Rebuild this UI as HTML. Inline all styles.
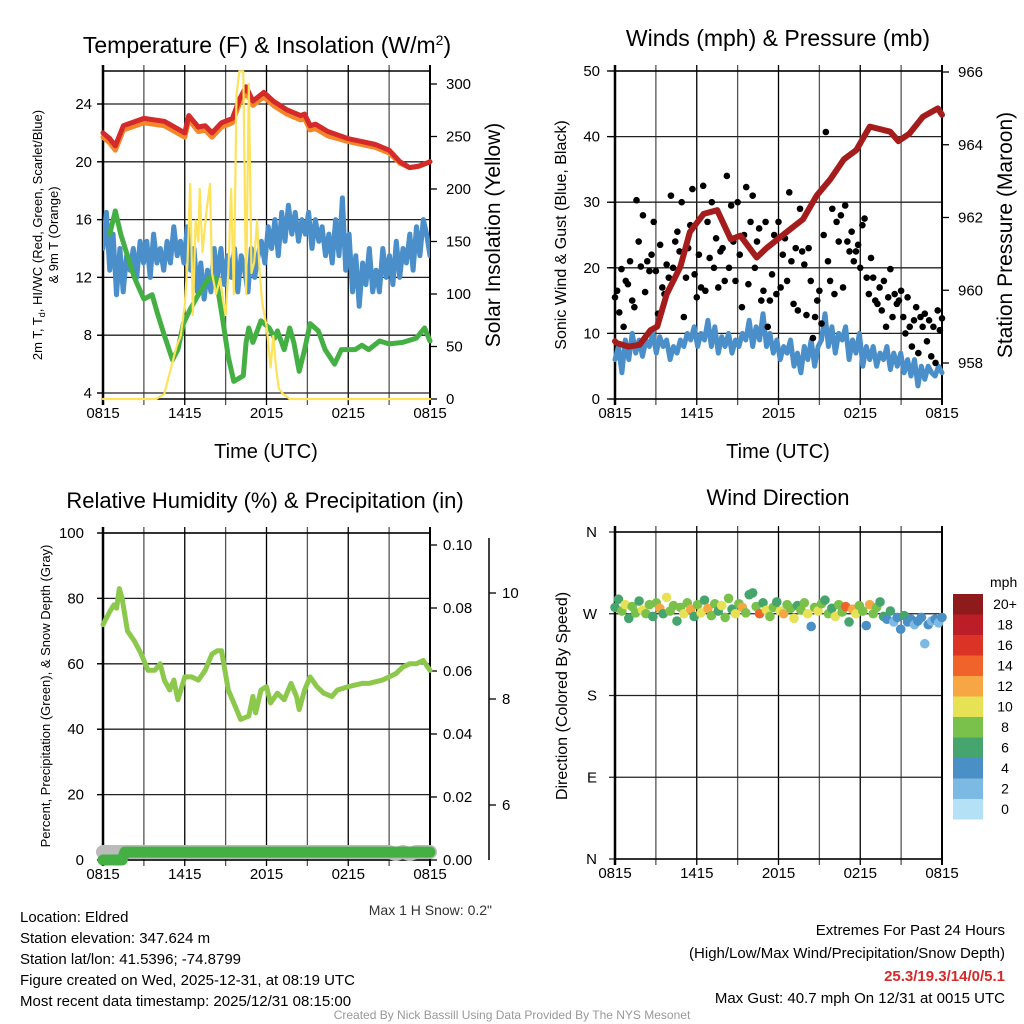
<!DOCTYPE html>
<html><head><meta charset="utf-8"><style>
body{margin:0;background:#fff;}
svg{display:block;font-family:"Liberation Sans",sans-serif;}
</style></head><body>
<svg id="fig" width="1024" height="1024" viewBox="0 0 1024 1024" xmlns="http://www.w3.org/2000/svg">
<text x="267" y="53" font-size="23" text-anchor="middle">Temperature (F) &amp; Insolation (W/m<tspan dy="-8" font-size="14">2</tspan><tspan dy="8">)</tspan></text>
<text x="778" y="46" font-size="23" text-anchor="middle">Winds (mph) &amp; Pressure (mb)</text>
<text x="265" y="508" font-size="22" text-anchor="middle">Relative Humidity (%) &amp; Precipitation (in)</text>
<text x="778" y="505" font-size="22" text-anchor="middle">Wind Direction</text>
<text x="266" y="458" font-size="20" text-anchor="middle">Time (UTC)</text>
<text x="778" y="458" font-size="20" text-anchor="middle">Time (UTC)</text>
<text transform="translate(42,235) rotate(-90)" font-size="13" text-anchor="middle">2m T, T<tspan font-size="9" dy="3">d</tspan><tspan dy="-3">, HI/WC (Red, Green, Scarlet/Blue)</tspan></text>
<text transform="translate(58,235) rotate(-90)" font-size="13" text-anchor="middle">&amp; 9m T (Orange)</text>
<text transform="translate(500,235) rotate(-90)" font-size="21" text-anchor="middle">Solar Insolation (Yellow)</text>
<text transform="translate(566,235) rotate(-90)" font-size="16" text-anchor="middle">Sonic Wind &amp; Gust (Blue, Black)</text>
<text transform="translate(1012,235) rotate(-90)" font-size="21" text-anchor="middle">Station Pressure (Maroon)</text>
<text transform="translate(50,696) rotate(-90)" font-size="13" text-anchor="middle">Percent, Precipitation (Green), &amp; Snow Depth (Gray)</text>
<text transform="translate(567,696) rotate(-90)" font-size="16" text-anchor="middle">Direction (Colored By Speed)</text>
<text x="492" y="915" font-size="14" text-anchor="end" fill="#333">Max 1 H Snow: 0.2"</text>
<g font-size="15">
<text x="20" y="922">Location: Eldred</text>
<text x="20" y="943">Station elevation: 347.624 m</text>
<text x="20" y="964">Station lat/lon: 41.5396; -74.8799</text>
<text x="20" y="985">Figure created on Wed, 2025-12-31, at 08:19 UTC</text>
<text x="20" y="1006">Most recent data timestamp: 2025/12/31 08:15:00</text>
</g>
<g font-size="15" text-anchor="end">
<text x="1005" y="935">Extremes For Past 24 Hours</text>
<text x="1005" y="958">(High/Low/Max Wind/Precipitation/Snow Depth)</text>
<text x="1005" y="981" fill="#d42a2a" font-weight="bold">25.3/19.3/14/0/5.1</text>
<text x="1005" y="1003">Max Gust: 40.7 mph On 12/31 at 0015 UTC</text>
</g>
<text x="512" y="1019" font-size="12" text-anchor="middle" fill="#999">Created By Nick Bassill Using Data Provided By The NYS Mesonet</text>
</svg>
<script>
// ---------- data ----------
const xTickLabels = ["0815","1415","2015","0215","0815"];
const tempTimes = [0,0.5,0.9,1.5,3,4.5,6,6.3,7,7.5,8,8.7,9.5,10,10.5,11,11.8,12.5,13.5,14.5,14.8,15.2,15.6,16.5,18,19,20,21,21.8,22.5,23.2,24];
const tempVals = [22,21.6,21.1,22.5,23,22.8,22,23.2,22.4,22.5,22,22.7,23,24.3,25.2,24.2,24.8,24.2,23.6,23.2,23.3,22.5,22.6,22.1,21.6,21.4,21.2,20.8,20.0,19.6,19.7,20.0];
const temp9mVals = [21.7,21.3,20.8,22.2,22.7,22.5,21.7,22.9,22.1,22.2,21.7,22.4,22.7,24.0,24.8,23.9,24.5,23.9,23.3,22.9,23.0,22.2,22.3,21.8,21.4,21.2,21.0,20.6,19.9,19.6,19.7,20.0];
const dewTimes = [0.5,0.9,1.3,2.3,3,3.6,4,4.5,5.1,5.5,5.9,6.4,7,7.8,8.3,8.8,9.2,9.6,10.3,10.5,10.7,11,11.6,12.2,12.6,12.8,13.3,13.7,14,14.4,14.8,15.2,15.8,16.3,17,17.5,18.5,19,19.5,20.3,21,22,23,23.6,24];
const dewVals = [15,16.6,15,12,10.5,10.8,9.5,8,6.3,7,8.8,9.8,10.8,12,11.9,9,6.5,4.8,5.2,7.5,8.5,7.5,9,8.5,7.8,8.3,7,8.5,7.5,5.5,7,8.8,8.3,7,6,7,7,7.3,7,7.6,7.4,7.5,7.8,8.5,7.6];
const chillVals = [14,16.5,12.5,15,10.8,14,11,13.5,12.5,14,12,14.5,13,14.5,12,15,13,14,12.5,14.5,13,15.5,13.5,14.5,13,15.5,12.5,14,11,13,10.5,12.5,11,14,12,14,11.5,13.5,12,14,11,13.5,12.5,11,14,12,13.5,14.5,13,15.5,14,16,13.5,16.5,14.5,17,15,16.5,14.5,16,15,16.5,14,16,14.5,15.5,13.5,15,13,16,13.5,17.5,12.5,15,11,13.5,10,13,11.5,14,11,12.5,11,14,12,13.5,11.5,14.5,12,14,13,15,12.5,15.5,13.5,16,15,13.5];
const solarTimes = [0,3.9,4.5,5.0,5.4,5.7,6.0,6.2,6.4,6.6,6.8,7.0,7.1,7.3,7.6,7.85,8.0,8.3,8.6,8.8,9.0,9.2,9.4,9.6,9.8,10.0,10.3,10.5,10.7,10.9,11.1,11.3,11.5,11.7,12.0,12.3,12.5,12.7,12.9,13.2,13.7,24];
const solarVals = [0,0,5,30,50,60,90,130,205,80,170,150,200,140,180,205,120,100,115,95,80,120,200,100,290,320,315,100,300,120,130,170,120,90,70,30,60,30,10,5,0,0];
const windVals = [6,8,4,9,6,10,7,9,6.5,9,8,10,7,9.5,8,9,6,8,7,9,8,10,9,11,8,10,9,12,8,11,7,9.5,8,10,7,9,8,10,9,12,8,11,9,13,8,10,7,9,6,8,7,9,5,7,4,8,6,9,5,8,9,13,8,11,7,10,9,11,6,9,7,10,5,8,6,8,5,7,6,8,4.5,7,5,7,4,6,3.5,6,2,5,3,5,4,3.5,5,4];
const gustVals = [15.5,16.5,13.2,19.8,11,18,17.5,21,15,14,30.3,24,20.2,28,16.3,21,19.5,22,27,19.5,13,23.5,17,16,20.5,18.5,31,20,24,25.5,22.5,30,12.5,18.5,23,26.5,32,19,15.5,22,17,32.5,16.5,27,21.5,30,20,24.5,17,22.5,23,18,34,20,29.5,24,18,30,22,14,25,32.3,17.5,27,31,20,24,26,15,16.5,27,11,15,19,25,16,27,17,22,24.5,18,31.5,21,14.5,23,13.5,29,22.5,20.5,12.8,23,18,9.3,12.5,15,16.5,11.5,25,40.7,21,18,29,16,27,24,28,17,29.5,24,22.5,25.5,21,22.5,23.5,20,26.5,27.5,18.5,16,21.5,18.5,15,14.5,17,13.5,18,11,15.5,19.8,12.5,16,14.5,15,16.5,12.5,10,15.5,11,8,12,14,7,12.5,11,13,8.8,12,6.5,11,5.5,13.5,10.5,12.3];
const presTimes = [0,0.1,1.0,1.8,2.6,3.1,3.8,4.8,5.5,6.5,7.5,8.5,9.2,10.4,11.1,12.6,13.8,14.8,15.8,16.8,17.7,18.7,20.2,20.8,21.6,22.6,23.7,24];
const presVals = [958.6,958.55,958.45,958.5,958.9,959.0,959.9,960.65,961.6,962.1,962.2,961.4,961.5,960.9,961.15,961.6,961.95,962.6,963.05,963.6,963.85,964.5,964.36,964.1,964.3,964.77,965.0,964.82];
const rhTimes = [0,0.5,0.8,1.0,1.2,1.4,1.8,2.3,2.8,3.3,3.8,4.2,4.5,4.9,5.2,5.5,6.0,6.5,7.0,7.5,8.0,8.4,8.7,9.2,9.7,10.1,10.7,11.0,11.2,11.6,12.0,12.3,12.8,13.3,13.8,14.2,14.4,14.8,15.2,15.7,16.2,16.8,17.2,18,19,19.5,20.5,21.5,22,22.5,23,23.5,24];
const rhVals = [72,76,78,77,83,80,70,67,63,58,58,60,55,52,55,49,56,56,55,58,63,64,64,52,47,43,44,50,45,52,53,48,51,49,54,50,46,52,56,53,51,50,52,53,54,54,55,57,59,60,60,61,58];
const precipTimes = [0,1.4,1.6,24];
const precipVals = [0,0,0.0025,0.0025];
const snowTimes = [0,21,21.5,22,22.5,23,23.5,24];
const snowVals = [5.2,5.2,5.15,5.2,5.15,5.2,5.2,5.2];
const dirVals = [277,286,273,280,265,278,271,284,274,270,280,267,282,276,270,288,273,279,262,277,270,282,275,267,280,271,285,276,268,281,273,279,266,287,275,270,281,277,271,291,293,278,270,282,274,267,277,283,273,270,280,276,265,279,274,282,270,256,277,273,281,285,270,276,267,280,272,278,261,275,270,279,273,257,280,270,277,283,267,264,273,261,266,253,268,261,264,258,262,266,237,258,262,264,260,266];
const dirSpeeds = [7,6,8,10,6,9,8,7,10,9,8,6,9,12,7,10,8,9,6,8,10,9,12,7,8,10,7,12,9,8,7,10,8,9,7,10,8,12,9,6,6,8,14,7,10,9,8,7,10,12,8,9,10,7,8,9,11,4,8,10,9,7,8,6,10,8,9,14,7,12,10,9,8,4,12,9,8,6,7,4,6,3,5,4,6,5,4,3,4,5,2,4,3,4,3,5];
const cbLabels = ["20+","18","16","14","12","10","8","6","4","2","0"];
const cbColors = ["#8e1a1b","#bb1e26","#dc3327","#f0632b","#f6a744","#e6e155","#79c14b","#45a56c","#4a8fc6","#7cb9e3","#b4e1f5"];

// ---------- helpers ----------
const NS="http://www.w3.org/2000/svg";
const svg=document.getElementById('fig');
function mk(tag,attrs,parent){const e=document.createElementNS(NS,tag);for(const k in attrs)e.setAttribute(k,attrs[k]);(parent||svg).appendChild(e);return e;}
function idxTimes(arr){return arr.map((v,i)=>i*24/(arr.length-1));}
function pathD(ts,vs,fx,fy){return ts.map((t,i)=>(i?'L':'M')+fx(t).toFixed(1)+','+fy(vs[i]).toFixed(1)).join('');}

const L1=103,R1=430,L2=615,R2=942;
const X1=h=>L1+h*(R1-L1)/24, X2=h=>L2+h*(R2-L2)/24;
const yT=v=>393-(v-4)*14.45, yS=v=>399-v*1.05;
const yW=v=>399-v*6.56, yP=p=>363-(p-958)*36.375;
const yRH=v=>860-v*3.27, yPr=v=>860-v*3150, ySn=v=>805-(v-6)*53;
const yD=d=>859-d*0.9083;

function grid(L,R,T,B,hy,name){
  const g=mk('g',{});
  
  
  for(let i=1;i<8;i++){const x=L+i*(R-L)/8;mk('line',{x1:x,y1:T-6,x2:x,y2:B+6,stroke:i%2?'#555':'#000','stroke-width':1.3},g);}
  hy.forEach(y=>mk('line',{x1:L-6,y1:y,x2:R,y2:y,stroke:'#222','stroke-width':1.3},g));
  mk('line',{x1:L,y1:T,x2:R,y2:T,stroke:'#000','stroke-width':1.5},g);
  mk('line',{x1:L,y1:B,x2:R,y2:B,stroke:'#000','stroke-width':1.5},g);
  mk('line',{x1:L,y1:T-6,x2:L,y2:B+6,stroke:'#000','stroke-width':2.5},g);
  mk('line',{x1:R,y1:T-6,x2:R,y2:B+6,stroke:'#000','stroke-width':2},g);
  xTickLabels.forEach((s,i)=>{const t=mk('text',{x:L+i*(R-L)/4,y:B+19,'font-size':15,'text-anchor':'middle'},g);t.textContent=s;});
  return g;
}
function yLabels(vals,fy,x,anchor,name,fmt,tickX1,tickX2){
  const g=mk('g',{});
  
  
  vals.forEach(v=>{const y=fy(v);mk('line',{x1:tickX1,y1:y,x2:tickX2,y2:y,stroke:'#000','stroke-width':1.3},g);
    const t=mk('text',{x:x,y:y+5,'font-size':15,'text-anchor':anchor},g);t.textContent=fmt?fmt(v):v;});
}
function line(ts,vs,fx,fy,color,w,name){
  const p=mk('path',{d:pathD(ts,vs,fx,fy),fill:'none',stroke:color,'stroke-width':w,'stroke-linejoin':'round','stroke-linecap':'round'});
  
  
  return p;
}

// ---------- panel 1 ----------
grid(L1,R1,71,399,[4,8,12,16,20,24].map(yT),'p1-grid');
yLabels([4,8,12,16,20,24],yT,92,'end','p1-left-ticks',null,97,103);
yLabels([0,50,100,150,200,250,300],yS,446,'start','p1-right-ticks',null,430,437);
const clip=mk('clipPath',{id:'c1'});mk('rect',{x:L1,y:71,width:R1-L1,height:328},clip);
line(idxTimes(chillVals),chillVals,X1,yT,'#4a8fc9',5,'windchill-line').setAttribute('clip-path','url(#c1)');
line(dewTimes,dewVals,X1,yT,'#44b044',5,'dewpoint-line');
line(tempTimes,temp9mVals,X1,yT,'#f5872a',5,'temp-9m-line');
line(tempTimes,tempVals,X1,yT,'#d42a2a',5,'temp-2m-line');
line(solarTimes,solarVals.map(v=>Math.min(v,312)),X1,yS,'#fde25a',2.2,'solar-line');

// ---------- panel 2 ----------
grid(L2,R2,71,399,[0,10,20,30,40,50].map(yW),'p2-grid');
yLabels([0,10,20,30,40,50],yW,600,'end','p2-left-ticks',null,607,615);
yLabels([958,960,962,964,966],yP,958,'start','p2-right-ticks',null,942,949);
line(idxTimes(windVals),windVals,X2,yW,'#4a8fc9',5,'wind-speed-line');
const gt=idxTimes(gustVals);
gustVals.forEach((v,i)=>{const c=mk('circle',{cx:X2(gt[i]),cy:yW(v),r:3.3,fill:'#000'});
  
  });
line(presTimes,presVals,X2,yP,'#a51c1c',6,'pressure-line');

// ---------- panel 3 ----------
grid(L1,R1,533,860,[0,20,40,60,80,100].map(yRH),'p3-grid');
yLabels([0,20,40,60,80,100],yRH,84,'end','p3-left-ticks',null,97,103);
yLabels([0,0.02,0.04,0.06,0.08,0.1],yPr,443,'start','p3-right-ticks',v=>v.toFixed(2),430,437);
mk('line',{x1:489,y1:538,x2:489,y2:860,stroke:'#000','stroke-width':1.5});
yLabels([6,8,10],ySn,502,'start','p3-snow-ticks',null,489,496);
line(snowTimes,snowVals,X1,v=>852-(v-5.2)*40,'#bbb',14,'snow-depth-line');
line(precipTimes,precipVals,X1,yPr,'#44b044',11,'precip-line');
line(rhTimes,rhVals,X1,yRH,'#8cc84b',5,'rh-line');

// ---------- panel 4 ----------
grid(L2,R2,532,859,[0,90,180,270,360].map(yD),'p4-grid');
const dirLbl=["N","E","S","W","N"];
[0,90,180,270,360].forEach((d,i)=>{const t=mk('text',{x:597,y:yD(d)+5,'font-size':15,'text-anchor':'end'});t.textContent=dirLbl[i];
  
  });
const dt=idxTimes(dirVals);
dirVals.forEach((d,i)=>{const b=Math.max(0,Math.min(10,Math.floor(dirSpeeds[i]/2)));
  const c=mk('circle',{cx:X2(dt[i]),cy:yD(d),r:4.8,fill:cbColors[10-b]});
  
  });
const cb=mk('g',{});


const mt=mk('text',{x:990,y:587,'font-size':14},cb);mt.textContent='mph';
cbColors.forEach((c,i)=>{mk('rect',{x:953,y:594+i*20.5,width:30,height:20.5,fill:c},cb);
  const t=mk('text',{x:1005,y:609+i*20.5,'font-size':14,'text-anchor':'middle'},cb);t.textContent=cbLabels[i];});
</script>
</body></html>
